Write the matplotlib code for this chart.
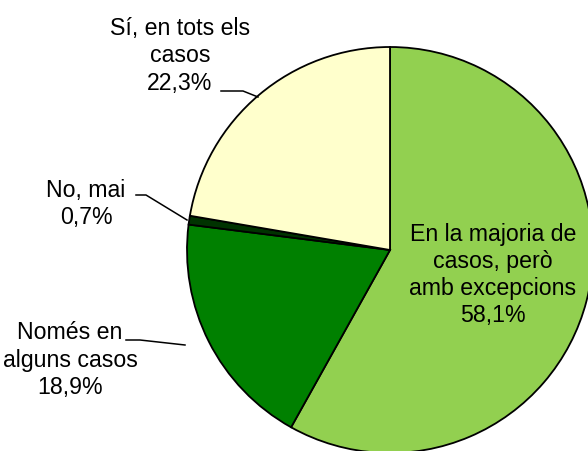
import matplotlib
matplotlib.use("Agg")
import matplotlib.pyplot as plt

plt.rcParams['font.family'] = ['Liberation Sans', 'DejaVu Sans']

labels = ["En la majoria de\ncasos, però\namb excepcions",
          "Només en\nalguns casos",
          "No, mai",
          "Sí, en tots els\ncasos"]
values = [58.1, 18.9, 0.7, 22.3]
colors = ["#92D050", "#008000", "#003300", "#FFFFCC"]

W, H = 588, 451
fig = plt.figure(figsize=(W / 100, H / 100), dpi=100)
ax = fig.add_axes([0, 0, 1, 1])

# pixel coordinates, y measured downward from the top (plotted as -y)
cx, cy, r = 390, 250, 203
ax.pie(values, colors=colors, startangle=90, counterclock=False,
       center=(cx, -cy), radius=r, frame=False,
       wedgeprops=dict(edgecolor="black", linewidth=1.3))
ax.set_xlim(0, W)
ax.set_ylim(-H, 0)
ax.set_aspect("equal")
ax.axis("off")

fs = 16.7
def lab(i, x, y):
    txt = "{}\n{}%".format(labels[i], str(values[i]).replace(".", ","))
    ax.text(x, -y, txt, ha="center", va="center", fontsize=fs,
            linespacing=1.24, color="black")

lab(0, 493, 275)
lab(1, 70, 360)
lab(2, 86, 204)
lab(3, 180, 56)

# leader lines
ax.plot([221, 243, 258], [-91, -91, -97], color="black", lw=1.1)
ax.plot([136, 146, 187], [-195, -195, -220], color="black", lw=1.1)
ax.plot([126, 140, 185], [-340, -340, -345], color="black", lw=1.1)

fig.savefig("out.png", dpi=100)
